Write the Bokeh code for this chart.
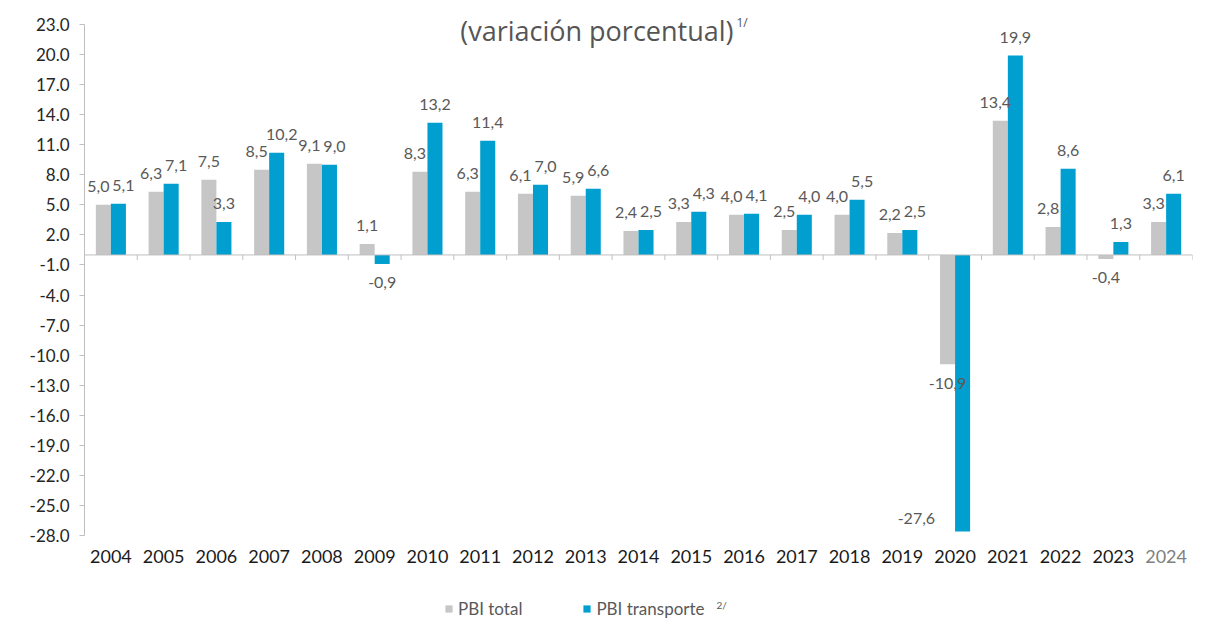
import numpy as np
from bokeh.plotting import figure
from bokeh.models import (Range1d, FixedTicker, NumeralTickFormatter, Span, Label,
                          Legend, LegendItem, ColumnDataSource)
from bokeh.core.properties import value
from bokeh.embed import file_html
from bokeh.resources import INLINE

# ---------------- data ----------------
years = [str(y) for y in range(2004, 2025)]
pbi_total = [5.0, 6.3, 7.5, 8.5, 9.1, 1.1, 8.3, 6.3, 6.1, 5.9, 2.4,
             3.3, 4.0, 2.5, 4.0, 2.2, -10.9, 13.4, 2.8, -0.4, 3.3]
pbi_transporte = [5.1, 7.1, 3.3, 10.2, 9.0, -0.9, 13.2, 11.4, 7.0, 6.6, 2.5,
                  4.3, 4.1, 4.0, 5.5, 2.5, -27.6, 19.9, 8.6, 1.3, 6.1]
y_ticks = list(range(-28, 24, 3))
title_text = "(variación porcentual)"
title_note = "1/"
legend_labels = ["PBI total", "PBI transporte"]
legend_note = "2/"

# ---------------- style ----------------
GRAY = "#C6C6C6"
BLUE = "#009FCF"
AXIS = "#BFBFBF"
FONT = "Lato"
LABEL_COLOR = "#595959"

n = len(years)
Y0, Y1 = y_ticks[0], y_ticks[-1]
W, H = 1207, 619
BL, BR = 84, 15
TOP_PAD, AXIS_H = 24, 511          # pixels above the value axis, height of value axis
frame_w = W - BL - BR
ppx = frame_w / n
ppu = AXIS_H / (Y1 - Y0)
bottom_pad = H - TOP_PAD - AXIS_H

def px_x(px):
    return (px - BL) / ppx

def px_y(py):
    return Y1 - (py - TOP_PAD) / ppu

p = figure(width=W, height=H, x_range=Range1d(0, n),
           y_range=Range1d(Y0 - bottom_pad / ppu, Y1 + TOP_PAD / ppu),
           output_backend="svg", toolbar_location=None, x_axis_location=None,
           min_border_left=BL, min_border_right=BR, min_border_top=0, min_border_bottom=0)
p.outline_line_color = None
p.xgrid.visible = False
p.ygrid.visible = False

centers = np.arange(n) + 0.5
bw = 0.285
x_gray = centers - bw / 2
x_blue = centers + bw / 2

src = ColumnDataSource(dict(xg=x_gray, xb=x_blue, total=pbi_total, trans=pbi_transporte))
r_gray = p.vbar(x="xg", top="total", bottom=0, width=bw, source=src,
                fill_color=GRAY, line_color=None)
r_blue = p.vbar(x="xb", top="trans", bottom=0, width=bw, source=src,
                fill_color=BLUE, line_color=None)

# zero line and category boundary ticks
p.add_layout(Span(location=0, dimension="width", line_color=AXIS, line_width=1))
bounds = np.arange(1, n + 1)
p.segment(x0=bounds, y0=np.zeros(n), x1=bounds, y1=np.full(n, -5 / ppu),
          line_color=AXIS, line_width=1)

# data labels
def label_pos(v, x):
    if v >= 0:
        return x, v + 18 / ppu, "center"
    if v - 25 / ppu < Y0:
        return x - bw / 2 - 20 / ppx, v + 13 / ppu, "right"
    return x, v - 19 / ppu, "center"

norm = dict(x=[], y=[], t=[])
left = dict(x=[], y=[], t=[])
for vg, vb, xg, xb in zip(pbi_total, pbi_transporte, x_gray, x_blue):
    pg = list(label_pos(vg, xg))
    pb = list(label_pos(vb, xb))
    if pg[2] == pb[2] == "center" and abs(pg[1] - pb[1]) * ppu < 20:
        # neighbouring labels at nearly the same height: push apart
        pg[0] -= 5 / ppx
        pb[0] += 5 / ppx
    elif vg >= 0 and vb > vg + 10 / ppu:
        # gray label would run into the taller blue bar: move it left
        pg[0] -= 5 / ppx
    for (x, y, a), v in ((pg, vg), (pb, vb)):
        d = norm if a == "center" else left
        d["x"].append(x); d["y"].append(y); d["t"].append(f"{v:.1f}".replace(".", ","))

p.text(x="x", y="y", text="t", source=ColumnDataSource(norm), text_align="center",
       text_baseline="middle", text_font=value(FONT), text_font_size="16px",
       text_color=LABEL_COLOR)
p.text(x="x", y="y", text="t", source=ColumnDataSource(left), text_align="right",
       text_baseline="middle", text_font=value(FONT), text_font_size="16px",
       text_color=LABEL_COLOR)

# value axis
ya = p.yaxis[0]
ya.ticker = FixedTicker(ticks=y_ticks)
ya.bounds = (Y0, Y1)
ya.formatter = NumeralTickFormatter(format="0.0")
ya.axis_line_color = AXIS
ya.major_tick_line_color = AXIS
ya.major_tick_out = 5
ya.major_tick_in = 0
ya.minor_tick_line_color = None
ya.major_label_text_font = FONT
ya.major_label_text_font_size = "17px"
ya.major_label_text_color = "#262626"
ya.major_label_standoff = 10

# category labels (last year lighter)
year_colors = ["#1A1A1A"] * (n - 1) + ["#808080"]
p.text(x=centers, y=np.full(n, px_y(556)), text=years, text_align="center",
       text_baseline="middle", text_font=value(FONT), text_font_size="18px",
       text_color=year_colors)

# title
p.add_layout(Label(x=px_x(733), y=px_y(30), text=title_text, text_align="right",
                   text_baseline="middle", text_font="Open Sans", text_font_size="27px",
                   text_color="#555555"))
p.add_layout(Label(x=px_x(736), y=px_y(22), text=title_note, text_align="left",
                   text_baseline="middle", text_font="Open Sans", text_font_size="12px",
                   text_color="#555555"))

# legend
legend = Legend(items=[LegendItem(label=legend_labels[0], renderers=[r_gray]),
                       LegendItem(label=legend_labels[1], renderers=[r_blue])],
                location=(444 - BL, 0), orientation="horizontal",
                glyph_width=9, glyph_height=9, label_standoff=5, spacing=60,
                padding=0, margin=0, border_line_color=None, background_fill_alpha=0,
                label_text_font=FONT, label_text_font_size="17px",
                label_text_color=LABEL_COLOR)
p.add_layout(legend, "center")
p.add_layout(Label(x=px_x(716), y=px_y(604), text=legend_note,
                   text_align="left", text_baseline="middle", text_font=FONT,
                   text_font_size="10px", text_color=LABEL_COLOR))

open("out.html", "w").write(file_html(p, INLINE))
